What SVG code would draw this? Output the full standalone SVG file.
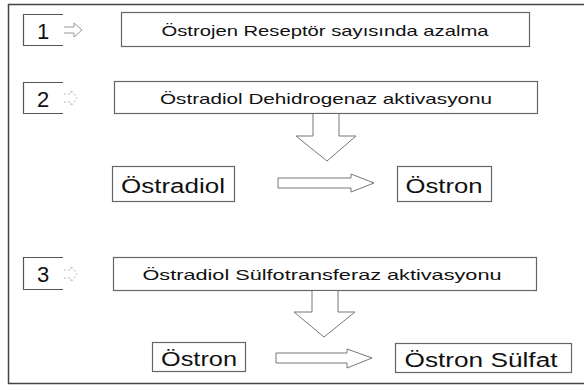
<svg xmlns="http://www.w3.org/2000/svg" width="584" height="387" viewBox="0 0 584 387">
<style>
.box{fill:#fff;stroke:#666;stroke-width:1.2}
.num{fill:#fff;stroke:#555;stroke-width:1.2}
.t{font-family:"Comic Sans MS","Liberation Sans",sans-serif;fill:#111}
.s{font-size:15px}
.l{font-size:20px}
.n{font-size:22px}
.arr{fill:#fff;stroke:#777;stroke-width:1}
.sm{fill:none;stroke:#999;stroke-width:1}
.dot{fill:none;stroke:#bbb;stroke-width:1;stroke-dasharray:2 2}
</style>
<rect width="584" height="387" fill="#fff"/>
<path d="M8 4.5 H584 M8.5 4 V383.5 M8 383.5 H584" fill="none" stroke="#444" stroke-width="1.5"/>

<g id="n1">
<path class="num" d="M63 14.5 H23.5 V45.5 H63"/>
<text class="t n" x="43" y="39" text-anchor="middle">1</text>
</g>
<g id="n2">
<path class="num" d="M63 82.5 H23.5 V113.5 H63"/>
<text class="t n" x="43" y="107" text-anchor="middle">2</text>
</g>
<g id="n3">
<path class="num" d="M63 257.5 H23.5 V289.5 H63"/>
<text class="t n" x="43" y="282" text-anchor="middle">3</text>
</g>

<g id="b1">
<rect class="box" x="121.5" y="12.5" width="408" height="34"/>
<text class="t s" x="325" y="36" text-anchor="middle" textLength="327" lengthAdjust="spacingAndGlyphs">Östrojen Reseptör sayısında azalma</text>
</g>
<g id="b2">
<rect class="box" x="114.5" y="81.5" width="423" height="32"/>
<text class="t s" x="326" y="104" text-anchor="middle" textLength="332" lengthAdjust="spacingAndGlyphs">Östradiol Dehidrogenaz aktivasyonu</text>
</g>
<g id="b3">
<rect class="box" x="113.5" y="257.5" width="423" height="33"/>
<text class="t s" x="322" y="280" text-anchor="middle" textLength="359" lengthAdjust="spacingAndGlyphs">Östradiol Sülfotransferaz aktivasyonu</text>
</g>

<g id="estradiol">
<rect class="box" x="112.5" y="166.5" width="122" height="35"/>
<text class="t l" x="173" y="193" text-anchor="middle" textLength="104" lengthAdjust="spacingAndGlyphs">Östradiol</text>
</g>
<g id="estron1">
<rect class="box" x="397.5" y="166.5" width="94" height="35"/>
<text class="t l" x="444" y="193" text-anchor="middle" textLength="77" lengthAdjust="spacingAndGlyphs">Östron</text>
</g>
<g id="estron2">
<rect class="box" x="152.5" y="342.5" width="93" height="29"/>
<text class="t l" x="199" y="366" text-anchor="middle" textLength="76" lengthAdjust="spacingAndGlyphs">Östron</text>
</g>
<g id="sulfat">
<rect class="box" x="395.5" y="343.5" width="176" height="29"/>
<text class="t l" x="481" y="367" text-anchor="middle" textLength="153" lengthAdjust="spacingAndGlyphs">Östron Sülfat</text>
</g>

<g id="connectors">
<path class="sm" d="M64 27 H74 V23 L82 30 L74 37 V33 H64"/>
<path class="dot" d="M64 94 H71 V90 L77 98 L71 106 V102 H64"/>
<path class="dot" d="M64 270 H71 V266 L77 274 L71 282 V278 H64"/>
<path class="arr" d="M313 114 V136 H296 L327 161 L356 136 H339 V114"/>
<path class="arr" d="M278 178 H351 V174 L374 183 L351 192 V188 H278 Z"/>
<path class="arr" d="M312 291 V312 H294 L324 337 L355 312 H338 V291"/>
<path class="arr" d="M276 353 H347 V349 L372 358 L347 368 V363 H276 Z"/>
</g>
</svg>
